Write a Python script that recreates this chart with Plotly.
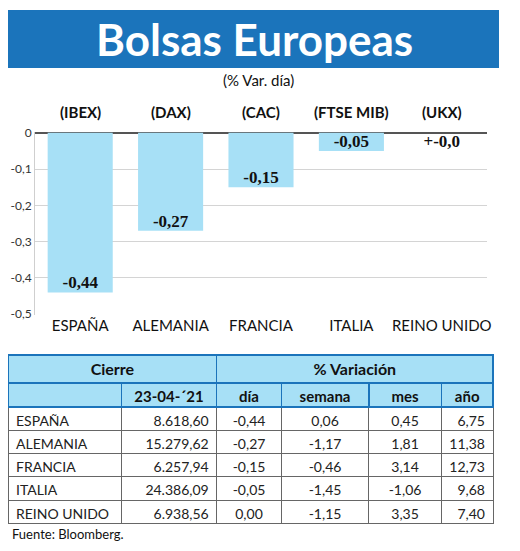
import plotly.graph_objects as go

# Datos
paises = ["ESPAÑA", "ALEMANIA", "FRANCIA", "ITALIA", "REINO UNIDO"]
indices = ["(IBEX)", "(DAX)", "(CAC)", "(FTSE MIB)", "(UKX)"]
var_dia = [-0.44, -0.27, -0.15, -0.05, 0.0]
etiquetas_var = ["-0,44", "-0,27", "-0,15", "-0,05", "+-0,0"]

y_ticks = [0, -0.1, -0.2, -0.3, -0.4, -0.5]
y_ticktext = ["0", "-0,1", "-0,2", "-0,3", "-0,4", "-0,5"]

cierre = ["8.618,60", "15.279,62", "6.257,94", "24.386,09", "6.938,56"]
col_dia = ["-0,44", "-0,27", "-0,15", "-0,05", "0,00"]
col_semana = ["0,06", "-1,17", "-0,46", "-1,45", "-1,15"]
col_mes = ["0,45", "1,81", "3,14", "-1,06", "3,35"]
col_anio = ["6,75", "11,38", "12,73", "9,68", "7,40"]

cabecera_1 = ["Cierre", "% Variación"]
cabecera_2 = ["", "23-04-´21", "día", "semana", "mes", "año"]

# la página tiene 8 px de margen: la figura se reduce y se desplaza
MARGEN = 8
W, H = 520 - 2 * MARGEN, 551 - 2 * MARGEN
AZUL = "#1b74bb"
CELESTE = "#a7e0f6"
FUENTE = "Lato, Open Sans, sans-serif"


def px(x):
    return max(0, (x - MARGEN) / W)


def py(y):
    return 1 - (y - MARGEN) / H


fig = go.Figure()

fig.add_trace(go.Bar(
    x=paises, y=var_dia,
    marker=dict(color=CELESTE, line=dict(width=0)),
    width=0.72, hoverinfo="skip",
))

# etiquetas de valor justo encima del fondo de cada barra
fig.add_trace(go.Scatter(
    x=paises, y=[min(v, -0.05) for v in var_dia],
    mode="text", text=[f"<b>{t}</b>" for t in etiquetas_var],
    textposition="top center",
    textfont=dict(family="Liberation Serif, serif", size=17, color="#111"),
    hoverinfo="skip",
))

# tabla: segunda cabecera + datos
fig.add_trace(go.Table(
    domain=dict(x=[px(5), px(493)], y=[py(528), py(383)]),
    columnwidth=[114, 96, 65, 88, 73, 52],
    header=dict(
        values=cabecera_2,
        fill_color=CELESTE, line=dict(color=AZUL, width=1.5),
        align="center", height=24,
        font=dict(family=FUENTE, size=15, color="#111", weight="bold"),
    ),
    cells=dict(
        values=[paises, cierre, col_dia, col_semana, col_mes, col_anio],
        fill_color="white", line=dict(color="#666", width=1),
        align=["left", "right", "center", "center", "center", "right"],
        height=23.3,
        font=dict(family=FUENTE, size=14, color="#222"),
    ),
))

# tabla: fila de cabecera combinada
fig.add_trace(go.Table(
    domain=dict(x=[px(5), px(493)], y=[py(384), py(355)]),
    columnwidth=[210, 278],
    header=dict(
        values=cabecera_1,
        fill_color=CELESTE, line=dict(color=AZUL, width=1.5),
        align="center", height=28,
        font=dict(family=FUENTE, size=16, color="#111", weight="bold"),
    ),
    cells=dict(values=[[], []]),
))

fig.update_layout(
    width=W, height=H,
    margin=dict(l=0, r=0, t=0, b=0, autoexpand=False),
    paper_bgcolor="white", plot_bgcolor="white",
    showlegend=False,
    xaxis=dict(
        domain=[px(35), px(487)], anchor="y", automargin=False,
        showgrid=False, ticks="",
        tickfont=dict(family=FUENTE, size=15, color="#111"),
        fixedrange=True,
    ),
    yaxis=dict(
        domain=[py(315), py(132)], anchor="x", automargin=False,
        range=[-0.502, 0.002],
        tickvals=y_ticks, ticktext=y_ticktext,
        tickfont=dict(family=FUENTE, size=12, color="#333"),
        gridcolor="#d4d4d4", gridwidth=1,
        zeroline=True, zerolinecolor="#555", zerolinewidth=2,
        showline=True, linecolor="#cfcfcf", linewidth=1,
        fixedrange=True,
    ),
)

# banner del título
fig.add_shape(type="rect", xref="paper", yref="paper",
              x0=px(5), x1=px(499), y0=py(68), y1=py(10),
              fillcolor=AZUL, line=dict(width=0), layer="below")

textos = [
    ("<b>Bolsas Europeas</b>", 254, 39, 44, "white", "center"),
    ("(% Var. día)", 258, 80, 15, "#111", "center"),
    ("Fuente: Bloomberg.", 10, 534, 13, "#111", "left"),
]
for txt, x, y, size, color, anchor in textos:
    fig.add_annotation(text=txt, xref="paper", yref="paper",
                       x=px(x), y=py(y), xanchor=anchor, yanchor="middle",
                       showarrow=False,
                       font=dict(family=FUENTE, size=size, color=color))

for pais, idx in zip(paises, indices):
    fig.add_annotation(text=f"<b>{idx}</b>", x=pais, xref="x",
                       y=py(112), yref="paper", yanchor="middle",
                       showarrow=False,
                       font=dict(family=FUENTE, size=15, color="#111"))

fig.write_html("out.html")
